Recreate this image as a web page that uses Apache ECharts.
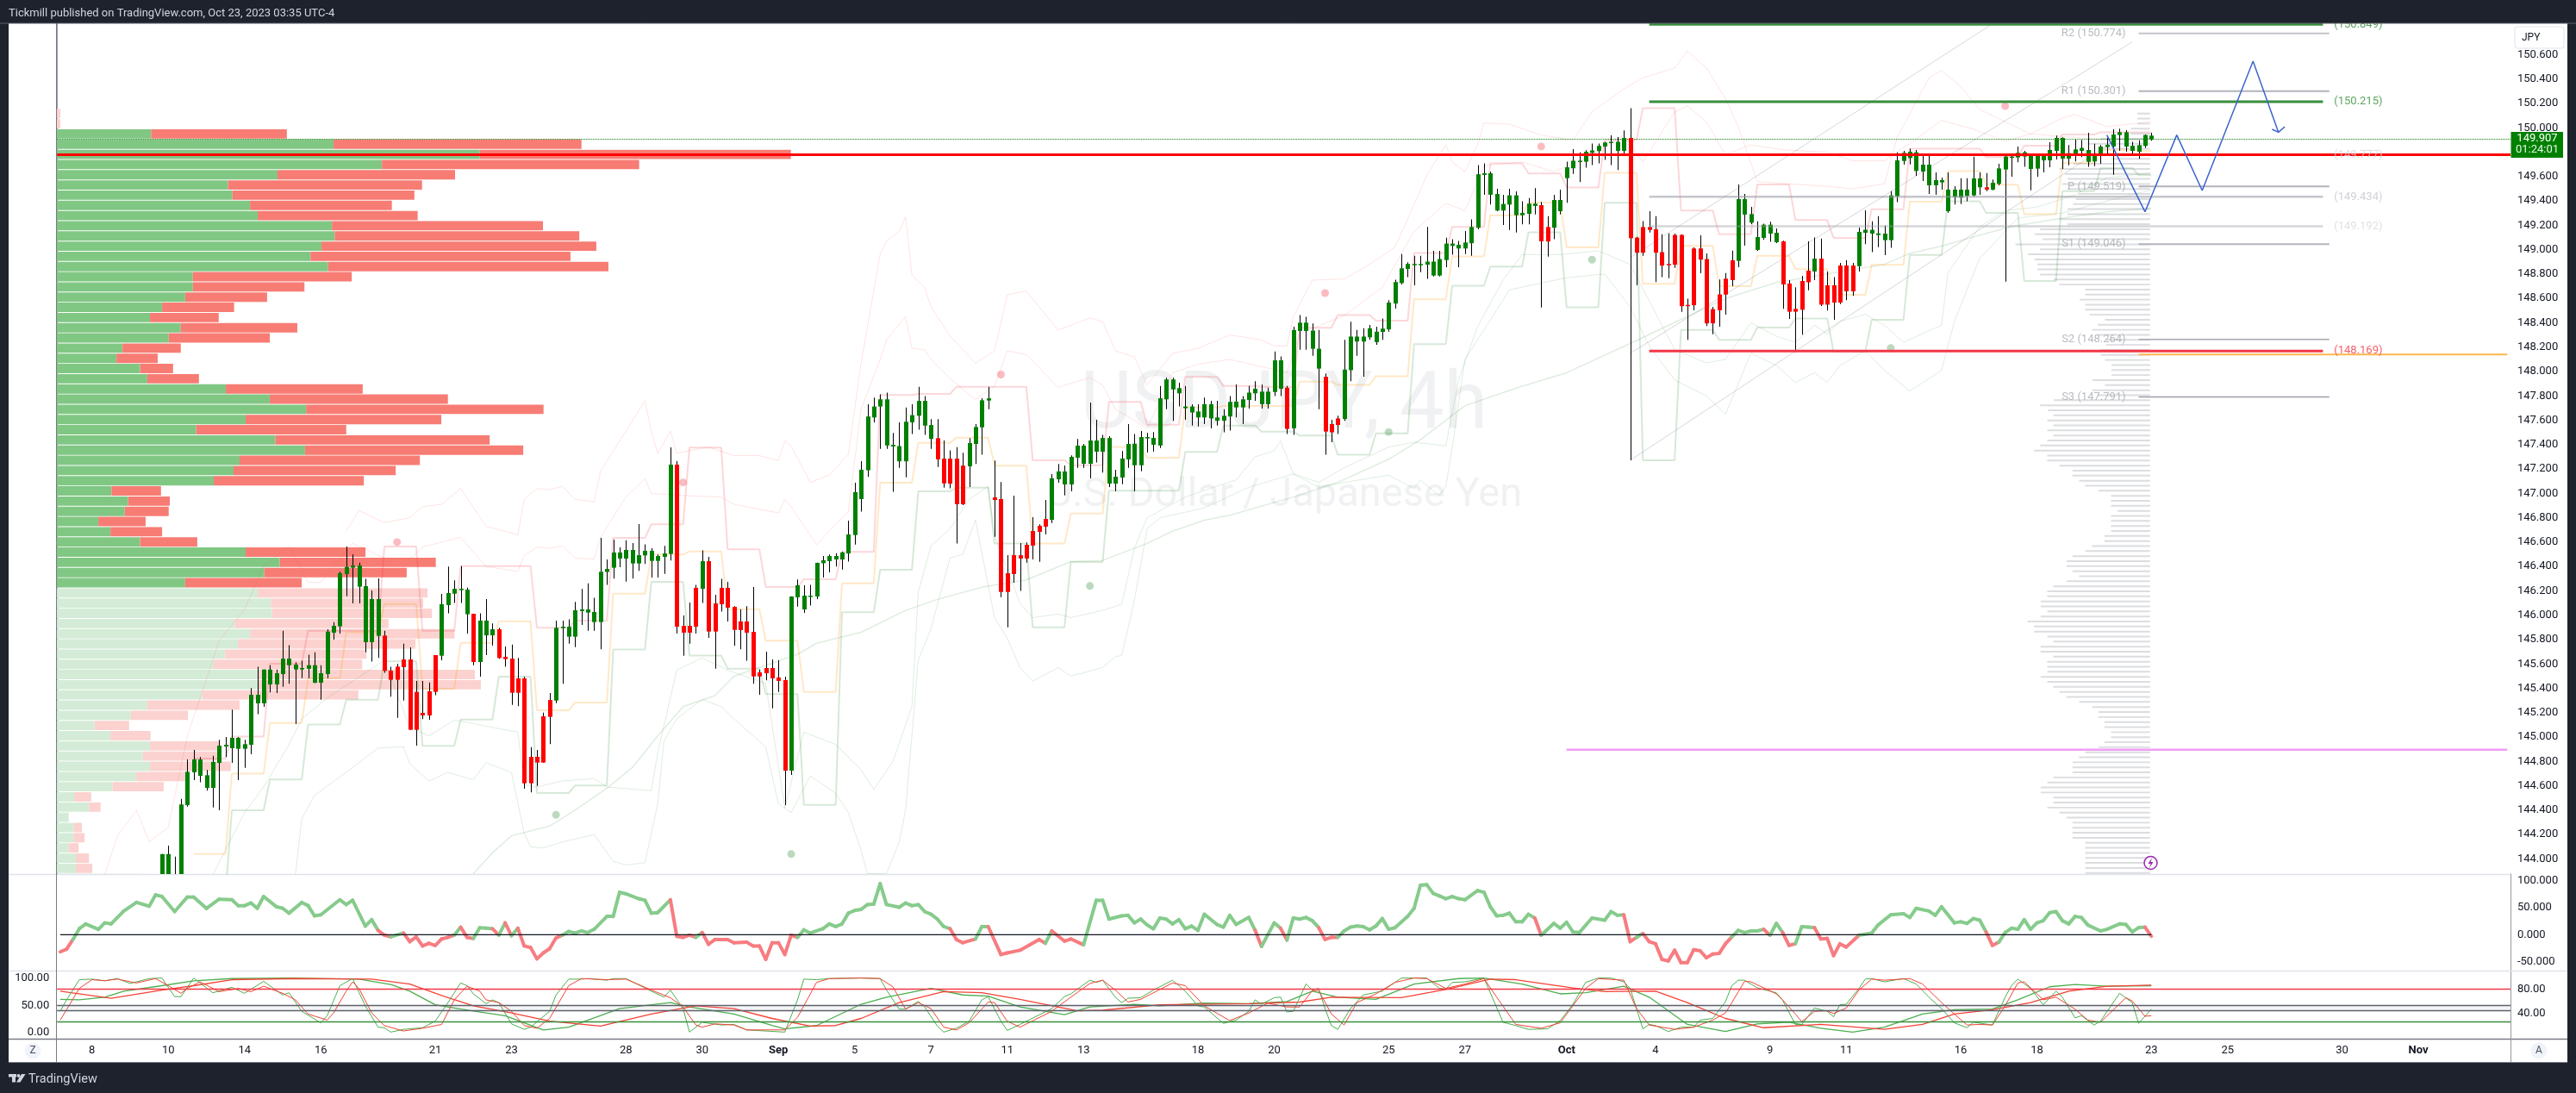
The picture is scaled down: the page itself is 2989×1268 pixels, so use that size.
<!DOCTYPE html>
<html><head><meta charset="utf-8"><style>html,body{margin:0;padding:0;background:#1e222d}#c{width:2989px;height:1268px}</style>
<script src="https://cdn.jsdelivr.net/npm/echarts@6/dist/echarts.min.js"></script></head><body><div id="c"></div>
<script>
const slotCount=386;
const tickSlots=[5,17,29,41,59,71,89,101,113,125,137,149,161,179,191,209,221,237,251,269,281,299,311,329,341,359,371];
const tickNames=['8','10','14','16','21','23','28','30','Sep','5','7','11','13','18','20','25','27','Oct','4','9','11','16','18','23','25','30','Nov'];
const priceTicks=[150.6,150.4,150.2,150,149.8,149.6,149.4,149.2,149,148.8,148.6,148.4,148.2,148,147.8,147.6,147.4,147.2,147,146.8,146.6,146.4,146.2,146,145.8,145.6,145.4,145.2,145,144.8,144.6,144.4,144.2,144];
const cciTicks=[100,50,0,-50];
const stochLeftTicks=[100,50,0];
const stochRightTicks=[80,40];
const firstBarSlot=16;
// [open, close, low, high] read bar by bar
const barsAugust=[
[143.7,144.04,143.7,144.04],[143.7,144.04,143.7,144.11],[143.7,143.75,143.65,144.02],[143.75,144.447,143.7,144.494],[144.442,144.715,144.43,144.817],[144.711,144.817,144.647,144.895],[144.682,144.817,144.63,144.836],[144.583,144.687,144.56,144.73],[144.583,144.796,144.423,144.847],[144.788,144.93,144.399,144.977],[144.923,144.937,144.836,145.001],[144.909,144.994,144.788,145.225],[144.904,144.994,144.647,145.001],[144.904,144.942,144.748,144.977],[144.937,145.347,144.859,145.402],[145.277,145.347,145.189,145.578],[145.277,145.555,145.248,145.555],[145.432,145.555,145.366,145.59],[145.432,145.524,145.361,145.555],[145.517,145.644,145.413,145.873],[145.59,145.644,145.437,145.755],[145.555,145.595,145.107,145.614],[145.555,145.567,145.484,145.626],[145.56,145.59,145.484,145.677],[145.446,145.59,145.442,145.696],[145.446,145.524,145.307,145.59],[145.517,145.866,145.484,145.885],[145.857,145.913,145.8,145.944],[145.909,146.345,145.85,146.357],[146.338,146.397,146.156,146.564],[146.39,146.408,146.097,146.498],[146.234,146.408,146.097,146.432],[145.779,146.239,145.696,146.298],[145.779,146.133,145.619,146.203],[145.831,146.133,145.649,146.302],
[145.833,145.543,145.527,145.873],[145.545,145.47,145.331,145.578],[145.578,145.47,145.159,145.602],[145.637,145.574,145.3,145.767],[145.637,145.06,145.06,145.736],[145.371,145.06,144.93,145.461],[145.199,145.178,145.147,145.461],[145.376,145.178,145.142,145.449],[145.673,145.371,145.343,145.673],
[145.668,146.09,145.63,146.175],[146.083,146.182,146.015,146.399],[146.177,146.217,146.1,146.286],[146.206,146.217,146.1,146.404],[146.008,146.21,145.85,146.227],[146.012,145.616,145.59,146.012],[145.616,145.956,145.496,146.015],[145.835,145.956,145.673,146.133],[145.835,145.885,145.75,145.932],[145.885,145.649,145.642,145.897],[145.659,145.64,145.578,145.743],[145.644,145.364,145.265,145.76],[145.482,145.364,145.253,145.649],[145.482,144.621,144.576,145.496],[144.838,144.621,144.546,144.918],[144.838,144.791,144.6,144.895],[145.171,144.791,144.788,145.201],[145.305,145.166,144.942,145.361],
[145.3,145.897,145.279,145.956],[145.894,145.906,145.437,145.956],[145.824,145.906,145.767,145.967],[145.824,146.041,145.739,146.109],[146.034,146.048,145.92,146.215],[146.022,146.048,145.873,146.262],[145.944,146.027,145.873,146.144],[145.944,146.357,145.72,146.635],[146.355,146.38,146.25,146.458],[146.39,146.515,146.3,146.621],[146.465,146.515,146.394,146.557],[146.465,146.536,146.276,146.616],[146.425,146.536,146.3,146.592],[146.425,146.493,146.364,146.748],[146.491,146.529,146.42,146.581],[146.446,146.529,146.309,146.55],[146.446,146.486,146.309,146.498],[146.479,146.507,146.34,146.569],[146.503,147.236,146.45,147.378],
[147.236,145.906,145.85,147.264],[145.913,145.857,145.668,145.998],[145.913,145.857,145.767,146.104],[146.225,145.906,145.85,146.25],[146.217,146.444,146.1,146.533],[146.444,145.866,145.814,146.479],[146.097,145.866,145.562,146.168],[146.225,146.09,146.03,146.298],[146.225,146.062,145.949,146.274],[146.069,145.88,145.748,146.074],[145.949,145.878,145.72,146.05],[145.949,145.857,145.626,146.074],[145.864,145.498,145.437,146.232],[145.531,145.498,145.347,145.555],[145.567,145.524,145.465,145.701],[145.567,145.482,145.236,145.637],[145.489,145.461,145.371,145.63],[145.468,144.725,144.442,145.496]];
const barsSeptember=[
[144.725,146.154,144.689,146.156],[146.147,146.246,146.07,146.293],[146.048,146.161,146.019,146.246],[146.154,146.161,146.08,146.25],[146.154,146.43,146.133,146.432],[146.427,146.451,146.309,146.486],[146.444,146.486,146.352,146.498],[146.458,146.486,146.4,146.51],[146.458,146.515,146.375,146.522],[146.507,146.663,146.44,146.776],[146.658,147.01,146.58,147.088],[146.953,147.194,146.85,147.264],
[147.19,147.631,147.136,147.732],[147.623,147.713,147.583,147.786],[147.713,147.772,147.366,147.813],[147.393,147.772,147.366,147.827],[147.385,147.399,147.014,147.496],[147.263,147.388,147.209,147.583],[147.263,147.588,147.131,147.705],[147.583,147.642,147.488,147.732],[147.637,147.759,147.523,147.875],[147.556,147.759,147.48,147.799],[147.447,147.561,147.366,147.61],
[147.453,147.279,147.217,147.61],[147.285,147.082,147.047,147.434],[147.285,147.079,147.041,147.353],[147.285,146.911,146.588,147.38],[147.228,146.911,146.904,147.334],
[147.222,147.413,147.052,147.453],[147.406,147.545,147.241,147.569],[147.542,147.764,147.317,147.78],[147.762,147.78,147.691,147.875],
[146.967,146.946,146.644,147.269],[146.953,146.191,146.149,147.092],[146.345,146.191,145.901,146.493],[146.493,146.338,146.267,146.981],[146.493,146.465,146.199,146.592],[146.578,146.465,146.432,146.597],[146.691,146.571,146.458,146.805],[146.734,146.684,146.439,146.746],[146.79,146.727,146.663,146.946],
[146.783,147.123,146.757,147.158],[147.116,147.18,147.088,147.241],[147.073,147.18,146.984,147.229],[147.073,147.3,147.017,147.312],[147.293,147.392,147.21,147.446],[147.243,147.392,147.21,147.406],[147.243,147.434,147.123,147.745],[147.342,147.434,147.253,147.604],[147.342,147.455,147.17,147.48],[147.08,147.455,147.052,147.47],[147.08,147.137,147.017,147.194],[147.13,147.286,147.076,147.347],[147.279,147.406,147.21,147.569],[147.231,147.408,147.017,147.488],[147.231,147.462,147.182,147.512],[147.451,147.462,147.335,147.496],[147.399,147.455,147.342,147.503],
[147.393,147.78,147.372,147.881],[147.772,147.935,147.691,147.948],[147.853,147.935,147.596,147.948],[147.821,147.864,147.713,147.908],[147.699,147.713,147.604,147.881],[147.664,147.713,147.556,147.732],[147.623,147.672,147.55,147.732],[147.623,147.732,147.569,147.786],[147.615,147.732,147.534,147.759],[147.596,147.623,147.556,147.759],[147.596,147.637,147.501,147.691],[147.631,147.751,147.515,147.799],[147.705,147.753,147.623,147.894],[147.705,147.772,147.569,147.799],[147.767,147.827,147.696,147.881],[147.821,147.859,147.759,147.921],[147.732,147.835,147.696,147.894],[147.732,147.835,147.696,147.867],[147.832,148.092,147.799,148.165],[147.859,148.092,147.799,148.124],
[147.867,147.529,147.488,147.881],[147.534,148.341,147.48,148.368],[148.333,148.401,148.178,148.463],[148.333,148.401,148.178,148.449],[148.187,148.336,148.13,148.395],[148.024,148.187,147.691,148.341],
[147.957,147.507,147.317,147.984],[147.569,147.501,147.42,147.604],[147.615,147.561,147.488,147.637],
[147.61,148.016,147.596,148.26],[148.011,148.287,147.921,148.409],[148.246,148.287,148.13,148.341],[148.246,148.287,147.957,148.355],[148.281,148.355,148.26,148.382],[148.241,148.327,148.219,148.368],[148.325,148.352,148.26,148.436],[148.346,148.566,148.327,148.585],[148.558,148.734,148.517,148.753],[148.726,148.847,148.715,148.964],[148.842,148.883,148.774,148.896],[148.88,148.883,148.707,148.95],[148.88,148.883,148.815,148.95],[148.877,148.902,148.761,149.186],[148.788,148.902,148.78,148.991],[148.788,148.923,148.78,148.991],[148.915,149.05,148.856,149.099],[149.031,149.05,148.958,149.086],[149.01,149.04,148.856,149.072],[149.01,149.059,148.964,149.153],[149.053,149.186,148.95,149.248],[149.18,149.619,149.167,149.695],[149.614,149.627,149.451,149.708],[149.451,149.627,149.37,149.641],[149.321,149.457,149.316,149.5],[149.321,149.375,149.202,149.451],[149.37,149.446,149.162,149.5],[149.283,149.446,149.14,149.478],[149.283,149.302,149.208,149.397],[149.294,149.378,149.208,149.424],[149.359,149.378,149.289,149.505]];
const barsOctober=[
[149.365,149.069,148.525,149.392],[149.186,149.067,148.942,149.275],
[149.18,149.408,149.086,149.451],[149.316,149.408,149.289,149.492],[149.587,149.676,149.384,149.722],[149.668,149.73,149.622,149.825],[149.722,149.73,149.554,149.798],[149.722,149.803,149.673,149.817],[149.795,149.814,149.695,149.871],[149.809,149.852,149.708,149.871],[149.847,149.879,149.736,149.885],[149.879,149.885,149.695,149.939],[149.811,149.885,149.654,149.925],[149.811,149.917,149.776,149.979],
[149.917,149.094,147.271,150.161],[149.099,148.975,148.707,149.105],[149.186,148.975,148.95,149.235],[149.186,149.162,149.14,149.316],[149.167,148.975,148.734,149.275],[148.98,148.869,148.774,149.126],[148.883,148.872,148.766,149.134],[149.121,148.877,148.85,149.132],[149.121,148.536,148.49,149.126],[148.547,148.536,148.26,148.598],[149.01,148.544,148.503,149.018],[149.01,148.918,148.807,149.118],[148.923,148.395,148.374,148.969],[148.512,148.395,148.306,148.531],[148.633,148.503,148.368,148.755],[148.762,148.632,148.467,148.809],[148.913,148.75,148.7,148.993],
[148.908,149.415,148.856,149.535],[149.288,149.415,149.033,149.457],[149.222,149.292,149.21,149.351],[148.998,149.104,148.99,149.233],[149.097,149.205,149.08,149.214],[149.132,149.205,149.064,149.229],[149.061,149.139,149.054,149.174],
[149.068,148.715,148.514,149.073],[148.722,148.491,148.432,148.75],[148.514,148.491,148.16,148.691],[148.743,148.507,148.302,148.785],[148.828,148.733,148.667,149.068],[148.821,148.927,148.75,149.101],[148.927,148.549,148.538,149.092],[148.708,148.549,148.5,148.821],[148.708,148.566,148.425,148.774],[148.87,148.566,148.554,148.891],[148.87,148.658,148.585,148.915],[148.87,148.658,148.62,148.891],
[148.865,149.146,148.821,149.181],[149.139,149.163,149.045,149.323],[149.132,149.163,148.979,149.233],[149.12,149.134,149.021,149.276],[149.078,149.132,148.955,149.198],[149.078,149.446,149.016,149.481],[149.438,149.733,149.391,149.799],[149.728,149.795,149.698,149.811],[149.752,149.804,149.7,149.828],[149.646,149.799,149.606,149.818],[149.641,149.698,149.563,149.776],[149.528,149.698,149.457,149.776],[149.528,149.571,149.45,149.634],[149.552,149.571,149.493,149.592],[149.316,149.493,149.304,149.634],[149.431,149.493,149.37,149.521],[149.427,149.493,149.375,149.587],[149.441,149.493,149.398,149.587],[149.446,149.585,149.434,149.764],[149.512,149.585,149.45,149.634],
[149.512,149.493,149.481,149.629],
[149.493,149.549,149.488,149.575],[149.54,149.667,149.528,149.705],[149.658,149.764,148.738,149.787],[149.757,149.764,149.599,149.787],[149.757,149.795,149.717,149.846],[149.764,149.799,149.681,149.811],[149.662,149.771,149.488,149.787],[149.665,149.78,149.599,149.787],[149.733,149.78,149.634,149.787],[149.733,149.818,149.677,149.882],[149.811,149.917,149.74,149.936],[149.747,149.917,149.662,149.922],[149.747,149.792,149.693,149.858],[149.787,149.823,149.724,149.905],[149.811,149.835,149.76,149.901],[149.721,149.818,149.681,149.96],[149.724,149.78,149.686,149.87],[149.773,149.846,149.705,149.858],[149.842,149.861,149.78,149.917],[149.846,149.945,149.615,149.988],[149.941,149.964,149.811,149.993],[149.846,149.964,149.804,149.981],[149.811,149.853,149.776,149.886],[149.804,149.858,149.745,149.898],[149.851,149.941,149.835,149.945],[149.903,149.936,149.894,149.96]];
// daily channel (upper / middle / lower) levels, first session starts at slot 21
const channelFirstSlot=21;
const channelUpper=[144.824,145.005,145.602,145.873,145.873,146.564,145.873,146.404,146.404,145.897,145.956,146.635,146.746,147.375,146.541,146.232,146.295,146.52,147.807,147.816,147.875,147.875,147.271,147.231,147.751,147.564,147.956,147.881,147.875,148.36,148.463,148.417,148.972,149.186,149.708,149.625,149.511,149.9,150.161,149.321,149.127,149.535,149.243,149.097,149.332,149.828,149.828,149.759,149.853,149.945,149.964,149.964];
const channelMiddle=[144.041,144.701,145.116,145.484,145.861,146.092,145.397,145.774,145.951,145.22,145.284,146.177,146.498,146.524,146.05,145.791,145.371,146.262,147.087,147.415,147.458,147.228,146.588,146.835,147.382,147.293,147.705,147.718,147.718,147.917,147.89,147.962,148.593,148.945,149.283,149.386,149.018,149.63,148.72,149.032,148.7,148.95,148.84,148.63,148.875,149.394,149.644,149.533,149.292,149.712,149.818,149.811];
const channelLower=[143.7,144.399,144.652,145.104,145.307,145.621,144.928,145.144,145.496,144.541,144.602,145.718,146.274,145.67,145.562,145.352,144.444,146.024,146.373,147.017,147.047,146.588,145.901,146.437,147.022,147.022,147.34,147.556,147.507,147.474,147.317,147.493,148.225,148.704,148.861,149.143,148.528,149.384,147.271,148.341,148.26,148.361,148.436,148.163,148.425,148.957,149.398,149.302,148.743,149.481,149.67,149.611];
// envelope vertices [slot, price]
const bandUpperOuter=[[45,146.69],[47,146.86],[51,146.76],[55,146.8],[57,146.89],[60,146.91],[63,147.04],[67,146.73],[72,146.66],[73,146.95],[75,147.04],[77,147.03],[79,147.06],[81,146.95],[84,146.93],[85,147.18],[92,147.76],[93,147.51],[94,147.33],[96,147.51],[97,147.33],[102,147.38],[106,147.31],[110,147.31],[113,147.27],[114,147.43],[115,147.39],[118,147.09],[121,147.15],[124,147.32],[126,148.07],[129,148.96],[130,149.07],[132,149.15],[133,149.27],[134,148.79],[136,148.69],[137,148.53],[140,148.29],[144,148.07],[147,148.17],[149,148.63],[152,148.66],[157,148.34],[162,148.44],[164,148.41],[166,148.17],[169,148.12],[171,147.89],[175,148.15],[179,148.19],[184,148.3],[189,148.26],[191,148.21],[193,148.21],[194,148.45],[197,148.75],[202,148.76],[206,148.88],[210,149.02],[213,149.37],[215,149.61],[218,149.86],[219,149.72],[221,149.64],[223,149.86],[224,150.04],[228,150.03],[233,149.94],[238,149.9],[241,150.13],[246,150.32],[249,150.41],[254,150.49],[256,150.63],[259,150.49],[262,150.24],[264,150.01],[267,149.56],[272,149.54],[278,149.52],[282,149.5],[287,149.54],[289,149.92],[294,150.41],[296,150.47],[299,150.34],[302,150.15],[306,150.05],[310,149.95],[315,150.08],[317,150.11],[322,150.01],[329,150.05]];
const bandUpperInner=[[7,143.87],[9,144.19],[12,144.4],[14,144.14],[17,144.26],[20,145.01],[25,145.79],[29,146.05],[32,146.4],[36,146.57],[39,146.27],[41,146.27],[46,146.59],[51,146.47],[55,146.46],[57,146.56],[63,146.64],[67,146.4],[72,146.36],[73,146.49],[75,146.56],[77,146.55],[79,146.57],[81,146.47],[84,146.46],[85,146.64],[89,146.97],[92,147.12],[93,147],[99,146.98],[104,146.97],[106,146.91],[113,146.84],[114,146.95],[115,146.89],[119,146.58],[121,146.69],[124,146.85],[126,147.69],[129,148.1],[130,148.26],[133,148.45],[134,148.19],[136,148.18],[137,148.1],[140,147.94],[144,147.77],[147,147.88],[149,148.17],[152,148.14],[157,147.87],[162,147.95],[164,147.89],[166,147.69],[169,147.6],[171,147.53],[175,147.99],[179,148.06],[184,148.1],[189,148.04],[193,147.99],[195,148.31],[202,148.46],[208,148.69],[213,149.15],[218,149.38],[221,149.32],[224,149.69],[230,149.72],[235,149.64],[239,149.72],[246,149.94],[249,149.72],[254,150.13],[256,150.18],[259,150.05],[262,149.78],[266,149.86],[271,149.82],[278,149.8],[282,149.73],[287,149.73],[291,149.87],[296,150.06],[301,149.99],[306,149.89],[310,149.95],[315,149.93],[320,149.91],[329,149.89]];
const bandLowerInner=[[24,143.87],[29,144.38],[32,144.59],[36,144.94],[38,145.15],[42,145.32],[51,145.63],[55,145.08],[58,145.01],[62,145.14],[68,145.08],[72,145.04],[73,144.61],[75,144.59],[79,144.64],[84,144.66],[86,144.59],[93,144.56],[94,144.87],[97,145.55],[101,145.65],[105,145.55],[111,145.44],[114,144.42],[117,145.04],[122,144.94],[126,144.73],[128,144.57],[131,144.8],[134,145.25],[135,146.19],[137,146.57],[140,146.71],[143,146.95],[146,147.06],[147,146.65],[151,146.1],[153,145.98],[157,146.01],[159,145.98],[164,146.04],[167,146.09],[169,146.55],[171,146.8],[177,146.97],[182,147.06],[185,147.11],[188,147.3],[191,147.35],[192,147.43],[194,147.16],[198,147.09],[202,147.21],[209,147.38],[213,147.42],[218,147.39],[220,147.93],[223,148.37],[227,148.75],[230,148.96],[236,148.96],[242,148.99],[247,148.88],[251,148.48],[254,148.18],[259,148.07],[262,148.1],[266,148.4],[270,148.29],[273,148.24],[276,148.38],[278,148.31],[280,148.41],[284,148.47],[287,148.38],[290,148.24],[296,148.38],[297,148.81],[302,149.19],[306,149.32],[311,149.35],[317,149.45],[322,149.59],[329,149.63]];
const bandLowerOuter=[[37,143.87],[38,144.33],[40,144.52],[46,144.75],[50,144.91],[54,144.92],[55,144.78],[58,144.64],[61,144.71],[65,144.65],[67,144.79],[71,144.71],[73,144.21],[74,144.1],[76,144.09],[79,144.14],[84,144.2],[87,143.98],[89,143.95],[92,143.97],[94,144.45],[95,144.97],[97,145.15],[101,145.31],[104,145.25],[106,145.15],[111,144.92],[113,144.45],[115,144.38],[118,144.68],[122,144.54],[124,144.38],[126,144.07],[127,143.88],[130,143.88],[132,144.14],[133,144.4],[135,145.63],[137,145.89],[140,146.47],[142,146.5],[144,146.78],[147,145.98],[149,145.81],[151,145.57],[153,145.46],[157,145.57],[159,145.5],[164,145.57],[166,145.66],[167,145.67],[169,146.12],[171,146.71],[173,146.8],[180,146.88],[187,147.05],[194,147.16],[198,147.05],[202,147.09],[209,147.15],[213,147.04],[214,147.11],[217,146.98],[218,147.06],[219,147.37],[221,148.1],[224,148.34],[228,148.67],[237,148.77],[243,148.8],[247,148.53],[250,148.21],[254,147.93],[259,147.8],[262,147.65],[266,148.15],[270,148.05],[273,147.91],[276,147.99],[278,147.91],[280,148.05],[284,148.17],[287,148.01],[291,147.84],[296,148.01],[298,148.41],[302,148.93],[308,149.26],[315,149.3],[322,149.4],[329,149.49]];
const slowAverage=[[65,143.88],[68,144.05],[71,144.19],[77,144.27],[81,144.4],[86,144.58],[90,144.75],[94,145.01],[98,145.25],[103,145.34],[106,145.5],[116,145.68],[119,145.77],[126,145.86],[133,146.04],[138,146.13],[145,146.23],[152,146.29],[159,146.44],[164,146.45],[171,146.59],[175,146.69],[180,146.78],[184,146.82],[194,146.97],[201,147.09],[209,147.28],[214,147.44],[221,147.72],[230,147.88],[237,147.99],[247,148.23],[262,148.6],[270,148.73],[287,148.88],[291,148.97],[296,149.03],[302,149.12],[307,149.19],[315,149.26],[322,149.31],[329,149.34]];
const sellSignals=[[53,146.6],[98,147.09],[148,147.975],[199,148.644],[233,149.847],[306,150.179]];
const buySignals=[[78,144.362],[115,144.04],[162,146.24],[209,147.504],[241,148.918],[288,148.193]];
const trendFromLow=[[247,147.271],[323,149.889]];
const trendMiddle=[[247,148.149],[326,150.705]];
const trendUpper=[[247,148.934],[304,150.854]];
const projectedPath=[[322,149.941],[328,149.311],[333,149.941],[337,149.486],[345,150.547],[349,149.964]];
const projectedArrow=[[348,149.988],[349,149.964],[350,150.009]];
const lastPrice=149.907, lastCountdown='01:24:01';
const pocPrice=149.783;
const greenLevels=[150.849,150.215];
const greyLevels=[149.777,149.434,149.192];
const redLevels=[148.169];
const pivotNames=['R2','R1','P','S1','S2','S3'];
const pivotValues=[150.774,150.301,149.519,149.046,148.264,147.791];
const orangeLevel=148.14, pinkLevel=144.896;
// session volume profile (left), bins from the top down
const profileTop=150.117, profileBinSize=0.0837, profileFadedFrom=47;
const profileBuy=[0,0,173,505,771,593,403,313,321,353,367,502,507,483,463,495,249,249,235,193,171,227,205,121,110,153,166,309,389,455,345,255,399,453,334,323,287,101,131,125,77,99,153,345,407,379,235,367,391,393,325,353,331,307,287,368,368,266,166,136,70,99,171,158,171,146,103,33,60,23,32,32,23,36,36,88];
const profileSell=[8,8,247,451,566,468,323,353,331,258,291,384,445,500,473,510,289,203,149,131,125,212,184,106,75,60,94,249,324,432,356,273,390,397,328,295,273,90,76,80,86,94,104,218,284,259,212,309,277,291,280,372,323,258,270,394,405,284,168,104,63,73,127,135,147,92,93,31,21,0,15,20,18,24,30,69];
// visible-range profile (right), bins from the top down
const rangeTop=150.117, rangeBottom=143.885;
const rangeVolume=[23,23,23,35,35,90,115,90,85,70,140,165,155,150,160,150,130,135,140,150,150,165,150,200,210,195,245,200,222,210,205,205,200,175,165,118,118,128,118,118,110,82,95,105,95,80,80,90,90,82,70,70,70,105,82,105,95,175,200,186,176,187,176,187,176,187,200,211,187,187,165,141,141,129,118,94,71,71,71,59,71,71,71,71,83,83,106,118,141,152,152,141,129,152,176,187,187,199,199,187,199,223,211,211,187,176,199,199,176,187,187,187,199,187,176,165,152,129,105,94,94,83,83,71,71,83,94,118,129,141,141,141,176,187,199,199,176,176,187,165,152,141,141,141,141,118,118,118,118,118,118,118];
// momentum oscillator vertices [slot, value]
const cciAugust=[[0,-32],[1,-27],[2,-9],[3,11],[4,20],[6,10],[7,22],[8,20],[10,44],[12,60],[14,53],[15,74],[16,71],[18,43],[20,70],[21,70],[23,49],[25,66],[27,65],[28,54],[29,54],[30,59],[31,49],[32,71],[34,52],[35,49],[36,40],[38,60],[39,54],[40,35],[41,37],[44,65],[45,56],[46,64],[48,16],[49,28],[50,8],[51,-1],[52,-4],[54,3],[55,-13],[56,-4],[57,-21],[58,-16],[59,-20],[60,-8],[61,-5],[62,-1],[63,14],[64,-5],[65,-7],[66,13],[67,12],[68,11],[69,-1],[70,22],[71,-2],[72,12],[73,-21],[74,-24],[75,-45],[76,-34],[77,-26],[78,-6],[79,-1],[80,6],[81,3],[82,7],[83,4],[84,10],[86,34],[87,34],[88,79],[89,76],[91,67],[92,64],[93,40],[94,41],[96,65],[97,-3],[98,-5],[99,-1],[100,-5],[101,4],[102,-18],[103,-9],[105,-9],[106,-15],[108,-14],[109,-21],[110,-21],[111,-46],[112,-15],[113,-15],[114,-37],[115,-1],[116,-5],[117,9],[118,3],[120,11],[121,20],[122,15],[123,20],[124,40],[125,45]];
const cciSeptember=[[126,47],[127,56],[128,57],[129,95],[130,56],[132,51],[133,59],[134,54],[135,56],[136,43],[137,38],[138,29],[139,15],[140,11],[141,-9],[142,-15],[144,-8],[145,15],[146,15],[148,-37],[149,-34],[151,-29],[154,-9],[155,-16],[156,7],[158,-12],[159,-8],[161,-19],[163,64],[164,64],[165,29],[167,35],[168,36],[169,22],[170,29],[171,18],[172,11],[173,31],[174,29],[175,20],[176,28],[177,11],[178,16],[179,8],[180,38],[182,19],[183,14],[184,36],[185,19],[187,32],[188,8],[189,-22],[191,22],[192,12],[193,-10],[194,31],[195,29],[196,32],[197,26],[198,13],[199,-9],[200,-5],[201,-5],[202,7],[203,14],[204,16],[205,15],[206,9],[207,16],[208,30],[209,10],[210,13],[212,34],[213,49],[214,92],[215,93],[216,77],[217,72],[218,67],[219,71],[220,67],[221,65],[223,82],[224,79],[225,52],[226,35],[227,36],[228,40],[229,24],[230,24],[231,38],[232,31]];
const cciOctober=[[233,-1],[235,21],[236,12],[237,23],[238,5],[239,4],[241,31],[243,27],[244,43],[245,36],[246,37],[247,-13],[248,-5],[249,2],[250,-13],[251,-17],[252,-46],[253,-49],[254,-29],[255,-52],[256,-52],[257,-28],[258,-30],[259,-43],[260,-36],[261,-35],[262,-17],[263,-4],[264,8],[265,4],[266,7],[267,7],[268,10],[269,-1],[270,21],[271,4],[272,-20],[273,-17],[274,15],[275,14],[276,13],[277,-8],[278,-7],[279,-39],[280,-17],[281,-23],[283,-1],[285,3],[286,18],[288,37],[290,39],[291,32],[292,49],[294,44],[295,36],[296,52],[298,22],[299,24],[300,21],[301,30],[302,27],[303,5],[304,-20],[305,-14],[306,4],[307,12],[308,10],[309,28],[310,10],[311,22],[312,26],[313,41],[314,43],[315,26],[316,20],[317,34],[318,32],[319,18],[321,7],[322,10],[324,20],[325,19],[326,5],[327,13],[328,14],[329,-3]];
// stochastic lines [slot, value]
const stochFastGreen=[[0,39],[1,60],[3,97],[5,98],[7,95],[9,99],[11,90],[14,99],[16,100],[18,66],[19,66],[21,100],[24,73],[27,83],[29,72],[32,94],[35,69],[36,73],[38,39],[41,18],[42,31],[44,86],[46,99],[48,49],[50,10],[51,9],[52,1],[54,6],[57,9],[59,21],[61,55],[63,91],[64,86],[65,71],[67,53],[68,60],[69,55],[71,16],[73,6],[74,10],[77,39],[78,69],[80,98],[82,98],[83,99],[86,96],[87,99],[89,99],[93,76],[95,65],[96,78],[98,44],[99,1],[101,19],[104,14],[106,15],[108,5],[114,1],[116,60],[117,98],[119,97],[121,99],[126,100],[129,99],[130,78],[132,43],[133,43],[135,57],[136,47],[138,12],[139,1],[141,8],[143,21],[145,60],[146,66],[148,21],[149,4],[151,15],[156,44],[158,66],[159,71],[162,96],[163,92],[164,96],[166,65],[167,55],[168,63],[170,64],[172,78],[175,96],[177,76],[179,49],[180,47],[183,17],[185,23],[187,39],[188,60],[189,52],[191,64],[192,65],[193,38],[194,39],[196,89],[197,78],[198,81],[199,44],[200,13],[201,6],[203,44],[205,69],[208,76],[211,100],[215,100],[217,81],[218,80],[219,92],[221,93],[224,100],[227,19],[229,13],[231,6],[234,7],[236,22],[238,52],[240,92],[242,100],[244,100],[246,93],[247,81],[249,7],[250,15],[251,13],[253,2],[255,10],[257,10],[258,23],[260,26],[262,57],[263,86],[264,96],[265,96],[267,82],[270,73],[271,59],[273,15],[274,15],[276,45],[278,39],[279,29],[280,51],[281,52],[283,81],[284,98],[285,99],[287,93],[290,99],[292,89],[294,65],[296,44],[298,18],[300,9],[301,19],[304,14],[306,65],[307,86],[308,98],[310,81],[312,51],[314,76],[315,65],[317,27],[318,31],[320,14],[321,21],[324,72],[326,55],[327,17],[329,43]];
const stochFastRed=[[0,23],[1,42],[3,81],[5,97],[7,95],[9,98],[12,91],[15,99],[17,86],[19,72],[20,81],[22,93],[25,75],[28,81],[30,75],[32,85],[35,72],[37,60],[39,34],[42,23],[43,36],[45,76],[46,93],[47,81],[49,36],[51,13],[54,3],[57,8],[60,15],[62,60],[64,85],[66,76],[67,60],[69,55],[71,39],[73,13],[75,8],[77,26],[80,86],[82,99],[86,97],[89,98],[93,78],[96,64],[98,47],[100,14],[101,10],[103,16],[106,14],[108,5],[114,5],[116,28],[119,92],[121,99],[126,100],[129,99],[131,84],[133,43],[135,55],[137,44],[139,10],[141,5],[143,18],[146,56],[147,55],[149,21],[151,10],[156,39],[159,65],[162,90],[164,96],[166,78],[168,56],[170,61],[175,91],[177,86],[180,49],[184,22],[187,36],[190,54],[193,47],[195,47],[197,77],[198,77],[200,34],[202,14],[204,55],[207,71],[210,92],[213,100],[215,99],[218,81],[221,89],[224,99],[226,65],[229,15],[233,8],[236,18],[240,81],[242,99],[246,96],[248,44],[250,14],[254,6],[257,10],[260,23],[262,36],[263,55],[265,94],[266,93],[270,71],[271,60],[273,34],[274,20],[276,39],[278,40],[279,35],[281,45],[283,78],[285,98],[287,96],[291,99],[293,89],[296,55],[298,34],[300,14],[302,15],[304,14],[306,49],[308,91],[309,93],[312,60],[314,65],[317,43],[319,23],[321,19],[325,64],[326,58],[328,30],[329,31]];
const stochSlowGreen=[[0,61],[3,60],[7,65],[10,76],[16,86],[21,95],[27,99],[36,100],[47,98],[52,88],[55,76],[59,51],[63,43],[67,36],[70,31],[73,18],[76,5],[80,10],[88,44],[93,51],[96,55],[99,47],[106,34],[112,13],[114,7],[119,13],[126,52],[130,65],[137,81],[142,69],[146,67],[151,47],[158,33],[162,47],[169,52],[173,49],[180,54],[187,53],[193,57],[197,76],[201,65],[207,61],[213,89],[220,99],[224,100],[230,89],[236,71],[240,73],[246,85],[250,65],[256,15],[262,2],[267,16],[272,19],[277,8],[282,1],[287,10],[293,34],[298,42],[304,43],[308,60],[313,84],[317,88],[322,85],[329,86]];
const stochSlowRed=[[0,76],[8,63],[16,78],[21,86],[27,97],[37,99],[49,98],[55,89],[60,68],[65,49],[71,36],[77,21],[85,12],[93,34],[100,49],[106,44],[112,26],[118,12],[122,13],[126,26],[132,55],[139,75],[145,73],[151,61],[160,40],[164,41],[173,51],[187,53],[195,56],[200,65],[211,64],[218,79],[225,98],[229,97],[238,82],[243,75],[251,76],[256,55],[262,26],[268,9],[277,15],[287,6],[293,15],[298,34],[304,42],[310,55],[316,76],[322,85],[329,87]];
const stochUpperBound=80, stochLowerBound=20, stochMidHigh=50, stochMidLow=40;

const GREEN='#008000',RED='#ff0000',TXT='#131722';
const GL=66.2,GW=2846.75;
const slotLabels=new Array(slotCount).fill('');
tickSlots.forEach((s,i)=>slotLabels[s]=tickNames[i]);
const bars=[].concat(barsAugust,barsSeptember,barsOctober).map((b,i)=>[firstBarSlot+i].concat(b));
function stepLine(vals){const out=[];vals.forEach((v,k)=>{const s=channelFirstSlot+6*k;out.push([s,v],[Math.min(s+5,329),v]);});return out;}
const hiddenX=(g)=>({type:'category',gridIndex:g,data:slotLabels,show:false,boundaryGap:true});
function plain(name,data,color,width,extra){return Object.assign({type:'line',name,data,xAxisIndex:0,yAxisIndex:0,symbol:'none',silent:true,clip:true,lineStyle:{color,width},z:3},extra||{});}
const bandRed='rgba(255,82,82,0.16)',bandGreen='rgba(56,142,60,0.16)';
const series=[
 {type:'custom',name:'session profile',xAxisIndex:3,yAxisIndex:0,clip:true,z:1,silent:true,
  data:profileBuy.map((b,i)=>[i,b,profileSell[i]]),
  renderItem(p,api){const i=api.value(0),b=api.value(1),s=api.value(2);
   const pr=profileTop-i*profileBinSize;const a=api.coord([0,pr+profileBinSize*0.46]),c=api.coord([b,pr-profileBinSize*0.46]),d=api.coord([b+s,pr]);
   const faded=i<2||i>=profileFadedFrom;const x0=a[0]-1.2;
   return {type:'group',children:[
    {type:'rect',shape:{x:x0,y:a[1],width:c[0]-a[0],height:c[1]-a[1]},style:{fill:faded?'#d4ecd7':'#81c784'}},
    {type:'rect',shape:{x:c[0]-1.2,y:a[1],width:d[0]-c[0],height:c[1]-a[1]},style:{fill:faded?'#fbd2cf':'#f77c74'}}]};},encode:{x:1,y:0}},
 {type:'custom',name:'range profile',xAxisIndex:3,yAxisIndex:0,clip:true,z:1,silent:true,
  data:rangeVolume.map((v,i)=>[i,v]),
  renderItem(p,api){const i=api.value(0),v=api.value(1);const step=(rangeTop-rangeBottom)/(rangeVolume.length-1);const pr=rangeTop-i*step;
   const edge=3808;const a=api.coord([edge-v,pr+0.007]),c=api.coord([edge,pr-0.007]);
   return {type:'rect',shape:{x:a[0],y:a[1],width:c[0]-a[0],height:c[1]-a[1]},style:{fill:'rgba(149,152,161,0.33)'}};},encode:{x:1,y:0}},
 plain('upper outer',bandUpperOuter,bandRed,1),
 plain('upper inner',bandUpperInner,bandRed,1),
 plain('lower inner',bandLowerInner,bandGreen,1),
 plain('lower outer',bandLowerOuter,bandGreen,1),
 plain('slow average',slowAverage,bandGreen,1.5),
 plain('channel upper',stepLine(channelUpper),'rgba(242,54,69,0.2)',2),
 plain('channel middle',stepLine(channelMiddle),'rgba(255,152,0,0.22)',2),
 plain('channel lower',stepLine(channelLower),'rgba(56,142,60,0.2)',2),
 plain('trend a',trendFromLow,'rgba(120,123,134,0.3)',1),
 plain('trend b',trendMiddle,'rgba(120,123,134,0.3)',1),
 plain('trend c',trendUpper,'rgba(120,123,134,0.3)',1),
 {type:'scatter',name:'sell signals',data:sellSignals,xAxisIndex:0,yAxisIndex:0,symbolSize:9,itemStyle:{color:'rgba(242,54,69,0.42)'},silent:true,z:4},
 {type:'scatter',name:'buy signals',data:buySignals,xAxisIndex:0,yAxisIndex:0,symbolSize:9,itemStyle:{color:'rgba(56,142,60,0.42)'},silent:true,z:4},
 {type:'custom',name:'USDJPY',data:bars,xAxisIndex:0,yAxisIndex:0,clip:true,z:5,silent:true,encode:{x:0,y:[1,2,3,4]},
  renderItem(p,api){const i=api.value(0),o=api.value(1),c=api.value(2),l=api.value(3),h=api.value(4);
   const x=Math.round(api.coord([i,o])[0]);const t=api.coord([i,Math.max(o,c)])[1],b=api.coord([i,Math.min(o,c)])[1];
   const hi=api.coord([i,h])[1],lo=api.coord([i,l])[1];
   return {type:'group',children:[
    {type:'rect',shape:{x:x,y:hi,width:1,height:lo-hi},style:{fill:'#000'}},
    {type:'rect',shape:{x:x-2,y:t,width:5,height:Math.max(b-t,1.5)},style:{fill:c>=o?GREEN:RED}}]};}},
 plain('last price',[],'#000',1,{markLine:{silent:true,symbol:'none',label:{show:false},lineStyle:{color:'#0b7d0b',type:'dotted',width:1},data:[{yAxis:lastPrice}]},z:6}),
 plain('poc',[],'#000',1,{markLine:{silent:true,symbol:'none',label:{show:false},z:7,lineStyle:{color:'#ff0000',type:'solid',width:3},data:[{yAxis:pocPrice}]},z:7}),
];
function levelLine(name,price,from,to,color,width){series.push(plain(name,[[from,price],[to,price]],color,width,{z:6}));}
greenLevels.forEach(v=>levelLine('level '+v,v,250,356,'#388e3c',3));
levelLine('level 149.777',greyLevels[0],250,356,'rgba(149,152,161,0.5)',2);
levelLine('level 149.434',greyLevels[1],250,356,'rgba(149,152,161,0.55)',2.5);
levelLine('level 149.192',greyLevels[2],250,356,'rgba(149,152,161,0.4)',2.5);
redLevels.forEach(v=>levelLine('level '+v,v,250,356,'#f23645',3));
const pivotColors=['#c3c5cc','#b2b4bd','#b2b4bd','#b2b4bd','#a5a7b1','#9ea0ab'];
pivotValues.forEach((v,i)=>levelLine(pivotNames[i],v,327,357,pivotColors[i],i<4?2:1.5));
levelLine('orange',orangeLevel,327,385,'#ffb74d',2);
levelLine('pink',pinkLevel,237,385,'#ef9df5',2.5);
series.push(plain('projection',projectedPath,'#3c63cf',1.5,{z:8}));
series.push(plain('projection arrow',projectedArrow,'#3c63cf',1.5,{z:8}));
const lvLabel=(v,color)=>({value:[357,v],label:{show:true,position:'right',distance:5,formatter:'('+v.toFixed(3)+')',color,fontSize:13,fontFamily:'Roboto'}});
series.push({type:'scatter',name:'level labels',xAxisIndex:0,yAxisIndex:0,symbolSize:1,silent:true,z:8,itemStyle:{color:'transparent'},
 data:[lvLabel(greenLevels[0],'#388e3c'),lvLabel(greenLevels[1],'#388e3c'),lvLabel(greyLevels[0],'#d3d5da'),lvLabel(greyLevels[1],'#c4c6cc'),lvLabel(greyLevels[2],'#d6d8dc'),lvLabel(redLevels[0],'#f23645')]});
series.push({type:'scatter',name:'pivot labels',xAxisIndex:0,yAxisIndex:0,symbolSize:1,silent:true,z:8,itemStyle:{color:'transparent'},
 data:pivotValues.map((v,i)=>({value:[326,v],label:{show:true,position:'left',distance:7,formatter:pivotNames[i]+' ('+v.toFixed(3)+')',color:'#a8aab2',fontSize:13,fontFamily:'Roboto'}}))});
// oscillator: each segment coloured by the sign of its end vertex
const cciAll=[].concat(cciAugust,cciSeptember,cciOctober);
series.push({type:'custom',name:'momentum',xAxisIndex:1,yAxisIndex:1,silent:true,z:3,clip:true,encode:{x:0,y:1},
 data:cciAll.map((d,i)=>i?[d[0],d[1],cciAll[i-1][0],cciAll[i-1][1]]:[d[0],d[1],d[0],d[1]]),
 renderItem(p,api){const a=api.coord([api.value(2),api.value(3)]),b=api.coord([api.value(0),api.value(1)]);
  return {type:'line',shape:{x1:a[0],y1:a[1],x2:b[0],y2:b[1]},style:{stroke:api.value(1)>0?'#86cb8c':'#f77c80',lineWidth:4,lineCap:'round'}};}});
series.push({type:'line',name:'momentum zero',data:[[0,0],[329,0]],xAxisIndex:1,yAxisIndex:1,symbol:'none',silent:true,lineStyle:{color:'#131722',width:1.2},z:4});
// stochastic
const st=(name,data,color,width)=>({type:'line',name,data,xAxisIndex:2,yAxisIndex:2,symbol:'none',silent:true,lineStyle:{color,width},z:4});
series.push(st('slow green',stochSlowGreen,'#4caf50',1.3),st('slow red',stochSlowRed,'#f44336',1.3),st('fast green',stochFastGreen,'#4caf50',1),st('fast red',stochFastRed,'#f44336',1));
series.push({type:'line',name:'stoch guides',data:[],xAxisIndex:2,yAxisIndex:2,symbol:'none',silent:true,z:3,
 markArea:{silent:true,itemStyle:{color:'rgba(120,123,134,0.08)'},data:[[{yAxis:stochMidLow},{yAxis:stochMidHigh}]]},
 markLine:{silent:true,symbol:'none',label:{show:false},data:[
  {yAxis:stochUpperBound,lineStyle:{color:'#f23645',width:1.3,type:'solid'}},
  {yAxis:stochMidHigh,lineStyle:{color:'#5d606b',width:1.3,type:'solid'}},
  {yAxis:stochMidLow,lineStyle:{color:'#5d606b',width:1.3,type:'solid'}},
  {yAxis:stochLowerBound,lineStyle:{color:'#388e3c',width:1.3,type:'solid'}}]}});

const yLabel=(digits)=>({color:TXT,fontSize:13,fontFamily:'Roboto',margin:8,formatter:v=>(+v).toFixed(digits)});
const option={animation:false,backgroundColor:'#1e222d',
 grid:[{left:GL,width:GW,top:27,height:987},{left:GL,width:GW,top:1014,height:112.7},{left:GL,width:GW,top:1126.7,height:79}],
 xAxis:[hiddenX(0),hiddenX(1),{type:'category',gridIndex:2,data:slotLabels,boundaryGap:true,axisLine:{show:false},axisTick:{show:false},
   axisLabel:{interval:0,margin:7,color:TXT,fontSize:13,fontFamily:'Roboto',hideOverlap:false,
    formatter:v=>v===''?'':(/[A-Za-z]/.test(v)?'{b|'+v+'}':v),rich:{b:{fontWeight:'bold',color:TXT,fontSize:13,fontFamily:'Roboto'}}}},
  {type:'value',gridIndex:0,min:0,max:GW*1.568,show:false}],
 yAxis:[
  {type:'value',gridIndex:0,position:'right',min:143.876,max:150.858,splitLine:{show:false},axisLine:{show:true,lineStyle:{color:'#9598a1'}},axisTick:{show:false},axisLabel:Object.assign(yLabel(3),{customValues:priceTicks})},
  {type:'value',gridIndex:1,position:'right',min:-68,max:112.8,splitLine:{show:false},axisLine:{show:true,lineStyle:{color:'#9598a1'}},axisTick:{show:false},axisLabel:Object.assign(yLabel(3),{customValues:cciTicks})},
  {type:'value',gridIndex:2,position:'left',min:-12.2,max:112.5,splitLine:{show:false},axisLine:{show:false},axisTick:{show:false},axisLabel:Object.assign(yLabel(2),{customValues:stochLeftTicks,margin:9})},
  {type:'value',gridIndex:2,position:'right',min:-2.4,max:110.4,splitLine:{show:false},axisLine:{show:true,lineStyle:{color:'#9598a1'}},axisTick:{show:false},axisLabel:Object.assign(yLabel(2),{customValues:stochRightTicks})}],
 series,
 graphic:[
  {type:'rect',z:-10,shape:{x:10,y:27,width:2969,height:1205},style:{fill:'#fff'}},
  {type:'rect',z:50,shape:{x:0,y:0,width:2989,height:27},style:{fill:'#1e222d'}},
  {type:'line',z:51,shape:{x1:0,y1:27,x2:2989,y2:27},style:{stroke:'#5d606b',lineWidth:1}},
  {type:'line',z:20,shape:{x1:65.5,y1:27,x2:65.5,y2:1232},style:{stroke:'#787b86',lineWidth:1}},
  {type:'line',z:2,shape:{x1:10,y1:1014.5,x2:2913,y2:1014.5},style:{stroke:'#e0e3eb',lineWidth:1.5}},
  {type:'line',z:2,shape:{x1:10,y1:1126.5,x2:2979,y2:1126.5},style:{stroke:'#e0e3eb',lineWidth:1.5}},
  {type:'line',z:2,shape:{x1:10,y1:1205.5,x2:2979,y2:1205.5},style:{stroke:'#787b86',lineWidth:1.5}},
  {type:'line',z:2,shape:{x1:10,y1:1232.5,x2:2979,y2:1232.5},style:{stroke:'#787b86',lineWidth:1}},
  {type:'line',z:2,shape:{x1:2913.5,y1:1205,x2:2913.5,y2:1232},style:{stroke:'#9598a1',lineWidth:1}},
  {type:'text',z:-5,style:{x:1490,y:473,text:'USDJPY, 4h',textAlign:'center',textVerticalAlign:'middle',fontSize:92,fontFamily:'Roboto',fill:'rgba(120,123,134,0.11)'}},
  {type:'text',z:-5,style:{x:1490,y:575,text:'U.S. Dollar / Japanese Yen',textAlign:'center',textVerticalAlign:'middle',fontSize:47,fontFamily:'Roboto',fill:'rgba(120,123,134,0.11)'}},
  {type:'text',z:52,style:{x:10,y:16,text:'Tickmill published on TradingView.com, Oct 23, 2023 03:35 UTC-4',textVerticalAlign:'middle',fontSize:13,fontFamily:'Roboto',fill:'#d1d4dc'}},
  {type:'group',z:20,children:[
   {type:'rect',z:20,shape:{x:10,y:1246,width:9,height:3.5},style:{fill:'#d1d4dc'}},
   {type:'rect',z:20,shape:{x:14,y:1246,width:4,height:9.5},style:{fill:'#d1d4dc'}},
   {type:'circle',z:20,shape:{cx:21.5,cy:1248,r:1.9},style:{fill:'#d1d4dc'}},
   {type:'polygon',z:20,shape:{points:[[19,1255.5],[25,1246],[29.5,1246],[23.5,1255.5]]},style:{fill:'#d1d4dc'}}]},
  {type:'text',z:20,style:{x:33,y:1252,text:'TradingView',textVerticalAlign:'middle',fontSize:14.5,fontFamily:'Roboto',fill:'#d1d4dc'}},
  {type:'circle',z:20,shape:{cx:38,cy:1219,r:9.5},style:{fill:'#f0f3fa'}},
  {type:'text',z:21,style:{x:38,y:1219,text:'Z',textAlign:'center',textVerticalAlign:'middle',fontSize:12,fontFamily:'Roboto',fill:'#50535e'}},
  {type:'circle',z:20,shape:{cx:2946,cy:1219,r:9.5},style:{fill:'#f0f3fa'}},
  {type:'text',z:21,style:{x:2946,y:1219,text:'A',textAlign:'center',textVerticalAlign:'middle',fontSize:12,fontFamily:'Roboto',fill:'#50535e'}},
  {type:'rect',z:20,shape:{x:2918,y:31,width:57,height:25,r:3},style:{fill:'#fff',stroke:'#e0e3eb',lineWidth:1}},
  {type:'text',z:21,style:{x:2926,y:44,text:'JPY',textVerticalAlign:'middle',fontSize:12,fontFamily:'Roboto',fill:TXT}},
  {type:'rect',z:20,shape:{x:2913.5,y:153,width:60.5,height:30},style:{fill:GREEN}},
  {type:'text',z:21,style:{x:2944,y:161,text:lastPrice.toFixed(3),textAlign:'center',textVerticalAlign:'middle',fontSize:13,fontFamily:'Roboto',fill:'#fff'}},
  {type:'text',z:21,style:{x:2944,y:174,text:lastCountdown,textAlign:'center',textVerticalAlign:'middle',fontSize:13,fontFamily:'Roboto',fill:'rgba(255,255,255,0.9)'}},
  {type:'circle',z:20,shape:{cx:2495.5,cy:1001,r:7.5},style:{fill:'#fff',stroke:'#9c27b0',lineWidth:1.5}},
  {type:'polygon',z:21,shape:{points:[[2497,995],[2492.5,1002],[2495.5,1002],[2494,1007],[2498.5,1000],[2495.5,1000]]},style:{fill:'#9c27b0'}}
 ]};
echarts.init(document.getElementById('c'),null,{renderer:'canvas',width:2989,height:1268}).setOption(option);
</script></body></html>
